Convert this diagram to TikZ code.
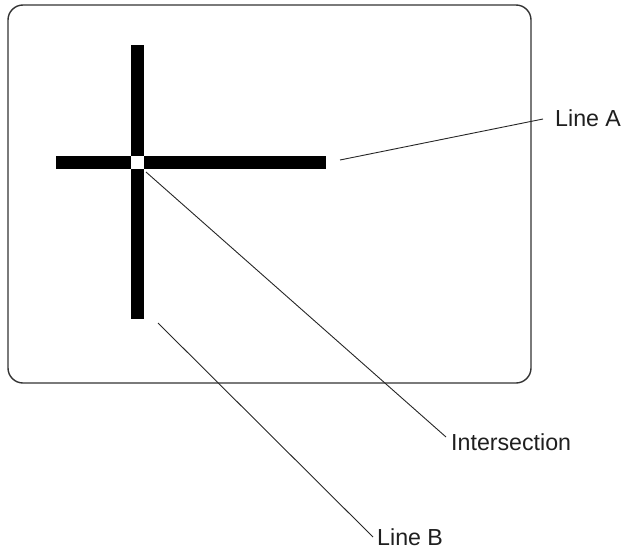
\documentclass[tikz,border=0pt]{standalone}
\usepackage{fontspec}
\setmainfont{Liberation Sans}
\begin{document}
\begin{tikzpicture}[x=1pt,y=-1pt,
  frame/.style={draw=black!80,line width=1.4pt,rounded corners=15pt},
  bar/.style={fill=black,draw=none},
  leader/.style={draw=black!85,line width=0.9pt},
  lbl/.style={anchor=west,inner sep=0pt,text=black!88,font=\fontsize{23.2}{27}\selectfont}]
\useasboundingbox (0,0) rectangle (623,551);
\draw[frame] (8,5) rectangle (531,383);
% bars
\fill[bar] (131,45) rectangle (144,319);
\fill[bar] (56,156) rectangle (326,169);
\fill[white] (131,156) rectangle (144,169);
% labels
\node[lbl] (la) at (555,118) {Line A};
\node[lbl] (li) at (451,442) {Intersection};
\node[lbl] (lb) at (377,537.5) {Line B};
% leader endpoints
\coordinate (a0) at (340,160);
\coordinate (a1) at (543,119);
\coordinate (i0) at (146,172);
\coordinate (i1) at (446,437);
\coordinate (b0) at (158,323);
\coordinate (b1) at (373,537);
\draw[leader] (a0) -- (a1);
\draw[leader] (i0) -- (i1);
\draw[leader] (b0) -- (b1);
\end{tikzpicture}
\end{document}
